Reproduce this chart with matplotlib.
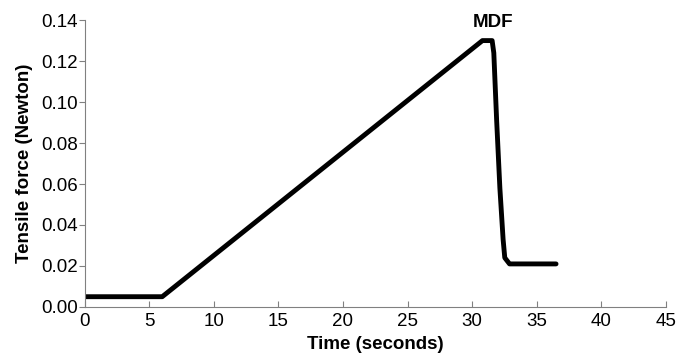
import matplotlib
matplotlib.use("Agg")
import matplotlib.pyplot as plt

plt.rcParams['font.family'] = ['Liberation Sans', 'DejaVu Sans']

# force curve
time_s = [0, 6, 30.8, 31.55, 31.68, 31.9, 32.15, 32.4, 32.53, 32.9, 36.5]
force_n = [0.005, 0.005, 0.130, 0.130, 0.124, 0.091, 0.058, 0.033, 0.024, 0.021, 0.021]
xticks = [0, 5, 10, 15, 20, 25, 30, 35, 40, 45]
yticks = [0.00, 0.02, 0.04, 0.06, 0.08, 0.10, 0.12, 0.14]

fig = plt.figure(figsize=(6.78, 3.59), dpi=100)
ax = fig.add_axes([0.125, 0.145, 0.857, 0.799])
ax.plot(time_s, force_n, color='black', lw=3.5, solid_joinstyle='round',
        solid_capstyle='round')
ax.text(31.6, 0.1345, 'MDF', fontsize=13.5, fontweight='bold', ha='center', va='bottom')

ax.set_xlim(0, 45)
ax.set_ylim(0, 0.14)
ax.set_xticks(xticks)
ax.set_yticks(yticks)
ax.set_yticklabels(['%.2f' % v for v in yticks])
ax.tick_params(axis='x', direction='in', length=4, labelsize=13.5, color='grey', pad=4)
ax.tick_params(axis='y', direction='out', length=4, labelsize=13.5, color='grey', pad=1)
for s in ['top', 'right']:
    ax.spines[s].set_visible(False)
for s in ['left', 'bottom']:
    ax.spines[s].set_color('grey')
ax.set_xlabel('Time (seconds)', fontsize=13.5, fontweight='bold', labelpad=5)
ax.set_ylabel('Tensile force (Newton)', fontsize=13.5, fontweight='bold', labelpad=6)

fig.savefig('out.png', dpi=100)
